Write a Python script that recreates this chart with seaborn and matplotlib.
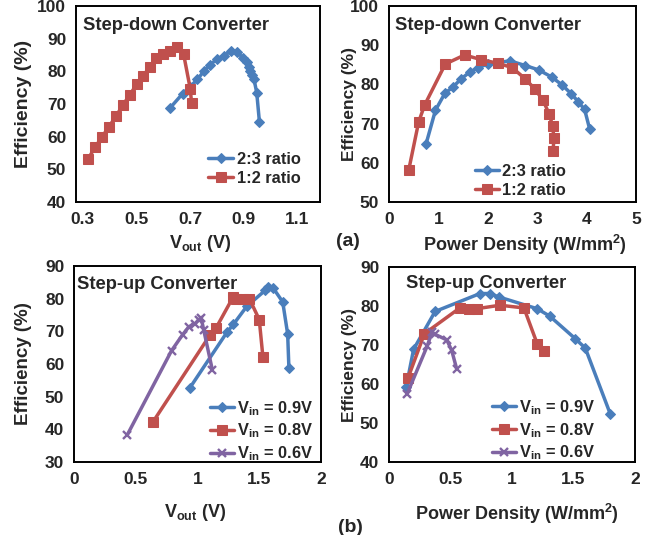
import matplotlib
matplotlib.use("Agg")
import matplotlib.pyplot as plt
import seaborn as sns

# (a) step-down converter
dn_vout_23 = [0.626, 0.673, 0.700, 0.728, 0.752, 0.775, 0.800, 0.826, 0.852, 0.876,
              0.899, 0.912, 0.919, 0.925, 0.933, 0.939, 0.949, 0.959]
dn_eff_v23 = [68.8, 73.2, 75.3, 77.5, 80.1, 82.0, 83.7, 84.8, 86.1, 85.9,
              84.0, 82.8, 81.4, 80.1, 78.9, 77.5, 73.5, 64.6]
dn_vout_12 = [0.321, 0.347, 0.373, 0.398, 0.424, 0.449, 0.475, 0.501, 0.526, 0.551,
              0.575, 0.600, 0.625, 0.652, 0.676, 0.701, 0.706]
dn_eff_v12 = [53.3, 56.9, 60.0, 63.1, 66.2, 69.6, 72.7, 76.0, 78.7, 81.4,
              84.2, 85.3, 86.1, 87.5, 85.4, 74.7, 70.4]

dn_pd_23 = [0.75, 0.94, 1.13, 1.30, 1.45, 1.64, 1.80, 2.01, 2.45, 2.76,
            3.03, 3.29, 3.50, 3.69, 3.83, 3.96, 4.06]
dn_eff_p23 = [64.8, 73.4, 77.7, 79.4, 81.3, 83.2, 84.2, 85.3, 86.0, 84.8,
              83.7, 81.9, 79.9, 77.6, 75.6, 73.6, 68.7]
dn_pd_12 = [0.40, 0.60, 0.72, 1.14, 1.53, 1.87, 2.20, 2.49, 2.76, 2.96,
            3.12, 3.24, 3.31, 3.34, 3.32]
dn_eff_p12 = [58.2, 70.4, 74.7, 85.2, 87.5, 86.3, 85.4, 84.3, 81.4, 78.7,
              75.9, 72.5, 69.5, 66.2, 63.1]

# (b) step-up converter
up_vout_09 = [0.94, 1.24, 1.29, 1.40, 1.55, 1.57, 1.61, 1.69, 1.73, 1.74]
up_eff_v09 = [52.8, 69.8, 72.1, 77.7, 82.6, 83.5, 83.4, 79.0, 69.2, 58.9]
up_vout_08 = [0.64, 1.10, 1.15, 1.29, 1.31, 1.37, 1.42, 1.50, 1.53]
up_eff_v08 = [42.3, 68.8, 71.0, 80.6, 79.8, 79.8, 80.0, 73.6, 62.0]
up_vout_06 = [0.43, 0.79, 0.88, 0.93, 0.98, 1.01, 1.03, 1.05, 1.12]
up_eff_v06 = [38.2, 64.1, 69.0, 71.4, 72.3, 73.6, 74.0, 70.5, 58.2]

up_pd_09 = [0.14, 0.20, 0.375, 0.74, 0.82, 0.895, 1.205, 1.307, 1.515, 1.596, 1.798]
up_eff_p09 = [59.3, 68.9, 78.6, 83.2, 83.2, 82.3, 79.3, 77.4, 71.6, 69.2, 52.4]
up_pd_08 = [0.154, 0.288, 0.580, 0.652, 0.712, 0.903, 1.097, 1.205, 1.264]
up_eff_p08 = [61.5, 72.9, 79.6, 79.3, 79.3, 80.2, 79.5, 70.3, 68.4]
up_pd_06 = [0.148, 0.31, 0.35, 0.37, 0.47, 0.51, 0.55]
up_eff_p06 = [57.5, 69.7, 73.3, 72.8, 71.3, 68.6, 63.9]

BLUE = "#4a7ebb"
RED = "#c0504d"
PURPLE = "#8064a2"

sns.set_style("white")
plt.rcParams["font.family"] = ["Liberation Sans", "DejaVu Sans"]
plt.rcParams["font.weight"] = "bold"
plt.rcParams["mathtext.default"] = "regular"

W, H = 657, 535
fig = plt.figure(figsize=(W / 100, H / 100), dpi=100)


def add_axes(left, right, top, bottom):
    return fig.add_axes([left / W, 1 - bottom / H, (right - left) / W, (bottom - top) / H])


def draw(ax, x, y, color, marker, ms, label):
    kw = dict(marker=marker, markersize=ms, color=color, linewidth=2.5,
              markeredgecolor=color, markerfacecolor=color)
    if marker == "x":
        kw["markeredgewidth"] = 1.7
    sns.lineplot(x=x, y=y, sort=False, estimator=None, ax=ax, label=label, **kw)


def style(ax, xlim, xticks, xtl, ylim, yticks, title, tpos, xlabel, xlc, ylc, ysize, tick_fs):
    ax.set_xlim(*xlim)
    ax.set_ylim(*ylim)
    ax.set_xticks(xticks)
    ax.set_xticklabels(xtl)
    ax.set_yticks(yticks)
    ax.tick_params(length=0, labelsize=tick_fs, pad=7)
    for t in ax.get_xticklabels() + ax.get_yticklabels():
        t.set_fontweight("bold")
    for sp in ax.spines.values():
        sp.set_color("black")
        sp.set_linewidth(1.4)
    ax.set_xlabel(xlabel, fontsize=13, fontweight="bold")
    ax.set_ylabel("Efficiency (%)", fontsize=ysize, fontweight="bold")
    ax.xaxis.set_label_coords(*xlc)
    ax.yaxis.set_label_coords(*ylc)
    ax.text(tpos[0], tpos[1], title, transform=ax.transAxes, fontsize=13.2,
            fontweight="bold", va="center", ha="left")


def legend(ax, anchor, hl):
    ax.legend(loc="upper left", bbox_to_anchor=anchor, frameon=False,
              borderpad=0, borderaxespad=0, handlelength=hl, handletextpad=0.2,
              labelspacing=0.25, prop={"weight": "bold", "size": 11.8})


# top-left
ax1 = add_axes(76, 320, 6, 202)
draw(ax1, dn_vout_23, dn_eff_v23, BLUE, "D", 5, "2:3 ratio")
draw(ax1, dn_vout_12, dn_eff_v12, RED, "s", 7, "1:2 ratio")
style(ax1, (0.275, 1.185), [0.3, 0.5, 0.7, 0.9, 1.1], ["0.3", "0.5", "0.7", "0.9", "1.1"],
      (40, 100), range(40, 101, 10), "Step-down Converter", (0.03, 0.903),
      "V$_{out}$ (V)", (0.508, -0.158), (-0.18, 0.5), 14, 12.5)
legend(ax1, (0.541, 0.255), 1.55)

# top-right
ax2 = add_axes(389, 636, 6, 202)
draw(ax2, dn_pd_23, dn_eff_p23, BLUE, "D", 5, "2:3 ratio")
draw(ax2, dn_pd_12, dn_eff_p12, RED, "s", 7, "1:2 ratio")
style(ax2, (0, 5), range(0, 6), [str(i) for i in range(6)],
      (50, 100), range(50, 101, 10), "Step-down Converter", (0.024, 0.898),
      "Power Density (W/mm$^{2}$)", (0.55, -0.158), (-0.128, 0.5), 12.5, 12.5)
legend(ax2, (0.348, 0.195), 1.45)

# bottom-left
ax3 = add_axes(74, 321, 266, 462)
draw(ax3, up_vout_09, up_eff_v09, BLUE, "D", 5, "V$_{in}$ = 0.9V")
draw(ax3, up_vout_08, up_eff_v08, RED, "s", 7, "V$_{in}$ = 0.8V")
draw(ax3, up_vout_06, up_eff_v06, PURPLE, "x", 6, "V$_{in}$ = 0.6V")
style(ax3, (0, 2), [0, 0.5, 1, 1.5, 2], ["0", "0.5", "1", "1.5", "2"],
      (30, 90), range(30, 91, 10), "Step-up Converter", (0.012, 0.908),
      "V$_{out}$ (V)", (0.49, -0.204), (-0.17, 0.5), 13.5, 12.5)
legend(ax3, (0.55, 0.322), 1.45)

# bottom-right
ax4 = add_axes(389, 635, 267, 462)
draw(ax4, up_pd_09, up_eff_p09, BLUE, "D", 5, "V$_{in}$ = 0.9V")
draw(ax4, up_pd_08, up_eff_p08, RED, "s", 7, "V$_{in}$ = 0.8V")
draw(ax4, up_pd_06, up_eff_p06, PURPLE, "x", 6, "V$_{in}$ = 0.6V")
style(ax4, (0, 2), [0, 0.5, 1, 1.5, 2], ["0", "0.5", "1", "1.5", "2"],
      (40, 90), range(40, 91, 10), "Step-up Converter", (0.069, 0.913),
      "Power Density (W/mm$^{2}$)", (0.52, -0.205), (-0.13, 0.5), 12.5, 12.5)
legend(ax4, (0.419, 0.328), 1.45)

fig.text(348 / W, 1 - 241 / H, "(a)", fontsize=14, fontweight="bold", ha="center", va="center")
fig.text(350 / W, 1 - 528 / H, "(b)", fontsize=14, fontweight="bold", ha="center", va="center")

fig.savefig("out.png", dpi=100, facecolor="white")
